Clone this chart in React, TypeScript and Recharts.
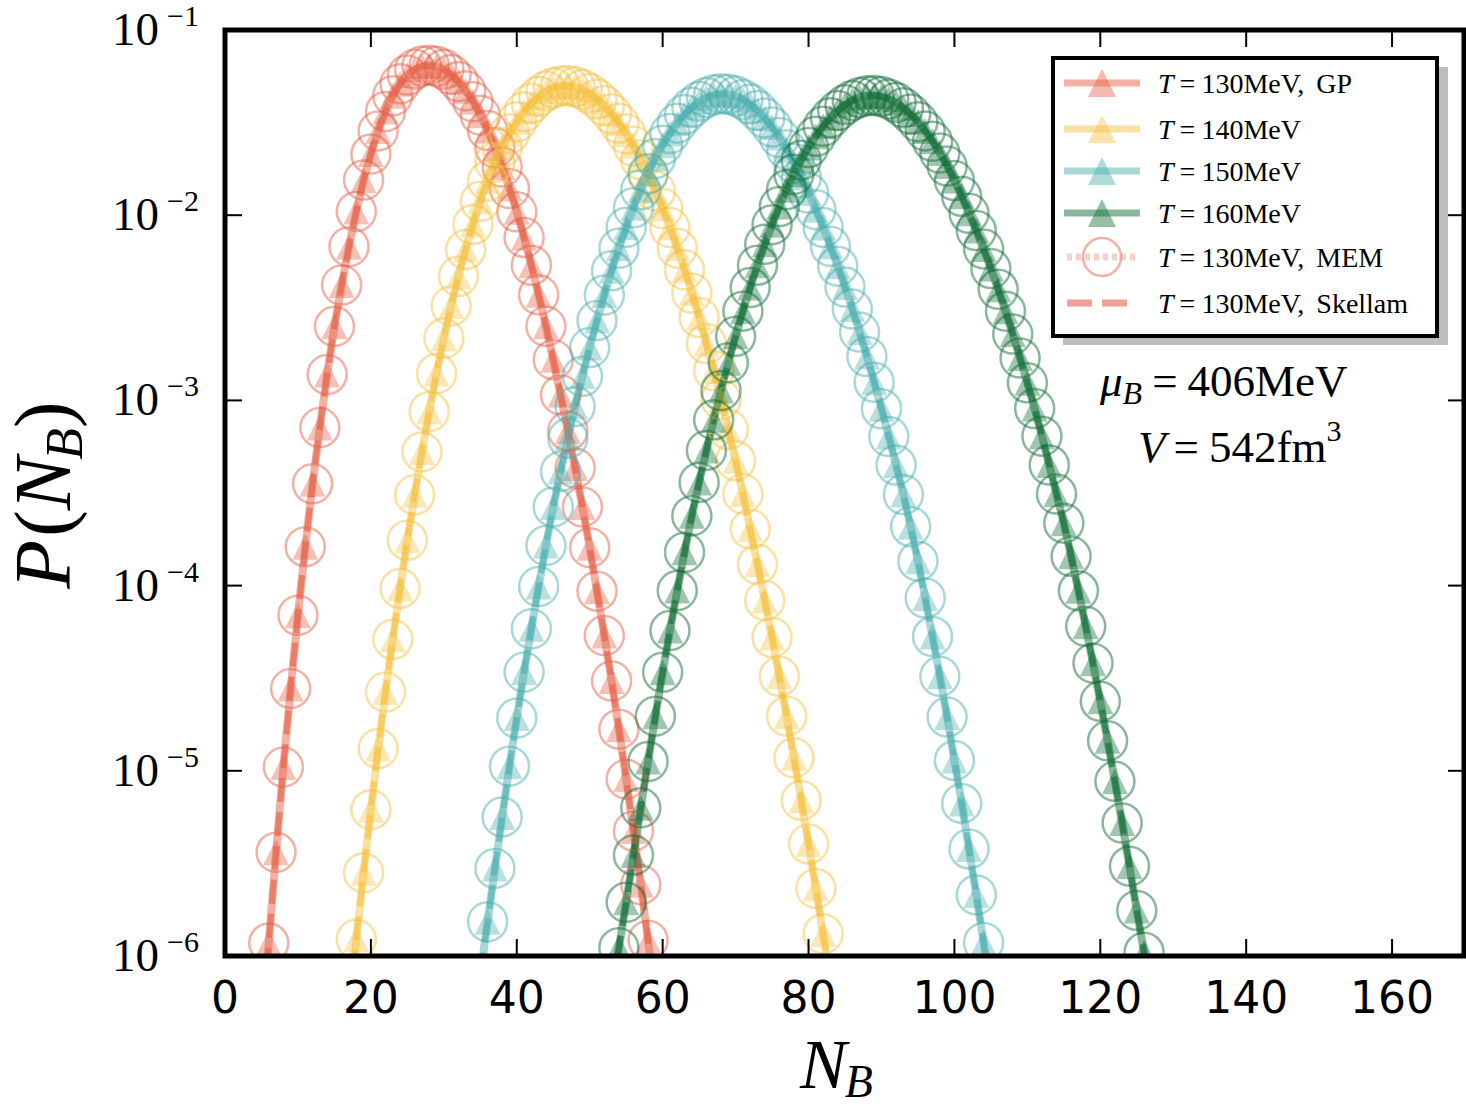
import React from 'react';
import { ComposedChart, Line, XAxis, YAxis } from 'recharts';

const RED = '#e5634a';
const YELLOW = '#f6c244';
const TEAL = '#4fb0b0';
const GREEN = '#15703a';

// log10 P(N_B), one value per integer N_B starting at *_FROM
const T130_FROM = 5;
const T130_LOGP = [
  -6.45, -5.93, -5.44, -4.98, -4.555, -4.16, -3.79, -3.45, -3.147, -2.86,
  -2.6, -2.377, -2.17, -1.98, -1.81, -1.67, -1.545, -1.44, -1.355, -1.29,
  -1.243, -1.212, -1.195, -1.19, -1.196, -1.212, -1.24, -1.278, -1.328, -1.388,
  -1.46, -1.542, -1.636, -1.74, -1.856, -1.982, -2.12, -2.27, -2.43, -2.6,
  -2.78, -2.97, -3.165, -3.365, -3.575, -3.795, -4.03, -4.27, -4.515, -4.775,
  -5.045, -5.325, -5.615, -5.915, -6.22,
];

const T140_FROM = 17;
const T140_LOGP = [
  -6.28, -5.91, -5.55, -5.21, -4.88, -4.575, -4.29, -4.015, -3.755, -3.51,
  -3.278, -3.06, -2.855, -2.665, -2.49, -2.33, -2.185, -2.05, -1.925, -1.815,
  -1.715, -1.633, -1.56, -1.496, -1.441, -1.395, -1.358, -1.33, -1.312, -1.302,
  -1.3, -1.307, -1.321, -1.343, -1.372, -1.408, -1.452, -1.503, -1.561, -1.627,
  -1.7, -1.781, -1.869, -1.964, -2.067, -2.178, -2.295, -2.42, -2.553, -2.693,
  -2.84, -2.995, -3.157, -3.326, -3.505, -3.695, -3.885, -4.08, -4.28, -4.49,
  -4.705, -4.93, -5.16, -5.395, -5.635, -5.88, -6.13,
];

const T150_FROM = 35;
const T150_LOGP = [
  -6.11, -5.815, -5.527, -5.249, -4.975, -4.715, -4.467, -4.233, -4.005, -3.784,
  -3.575, -3.384, -3.205, -3.033, -2.87, -2.715, -2.569, -2.431, -2.3, -2.179,
  -2.065, -1.96, -1.863, -1.775, -1.694, -1.622, -1.559, -1.503, -1.456, -1.417,
  -1.386, -1.364, -1.35, -1.344, -1.347, -1.357, -1.375, -1.4, -1.434, -1.475,
  -1.524, -1.581, -1.646, -1.719, -1.797, -1.88, -1.97, -2.066, -2.168, -2.275,
  -2.388, -2.507, -2.631, -2.763, -2.902, -3.045, -3.195, -3.349, -3.508, -3.682,
  -3.868, -4.067, -4.275, -4.49, -4.71, -4.944, -5.176, -5.422, -5.67, -5.927,
  -6.19,
];

const T160_FROM = 53;
const T160_LOGP = [
  -6.2, -5.955, -5.71, -5.455, -5.2, -4.95, -4.705, -4.468, -4.243, -4.027,
  -3.82, -3.623, -3.443, -3.27, -3.105, -2.947, -2.797, -2.654, -2.518, -2.391,
  -2.27, -2.157, -2.051, -1.953, -1.862, -1.779, -1.703, -1.635, -1.574, -1.52,
  -1.474, -1.435, -1.404, -1.38, -1.364, -1.355, -1.353, -1.359, -1.372, -1.392,
  -1.42, -1.454, -1.496, -1.545, -1.601, -1.664, -1.735, -1.813, -1.898, -1.99,
  -2.083, -2.182, -2.288, -2.4, -2.518, -2.642, -2.771, -2.905, -3.044, -3.193,
  -3.349, -3.506, -3.663, -3.842, -4.028, -4.22, -4.419, -4.625, -4.838, -5.057,
  -5.282, -5.515, -5.754, -5.98, -6.25,
];

const X_TICKS = [0, 20, 40, 60, 80, 100, 120, 140, 160];
const Y_TICKS = [1e-6, 1e-5, 1e-4, 1e-3, 1e-2, 1e-1];

const SERIES = [
  { key: 't130', from: T130_FROM, logP: T130_LOGP, color: RED, temp: '130' },
  { key: 't140', from: T140_FROM, logP: T140_LOGP, color: YELLOW, temp: '140' },
  { key: 't150', from: T150_FROM, logP: T150_LOGP, color: TEAL, temp: '150' },
  { key: 't160', from: T160_FROM, logP: T160_LOGP, color: GREEN, temp: '160' },
];

const rows: any[] = [];
for (let n = 4; n <= 128; n++) {
  const row: any = { n };
  for (const s of SERIES) {
    const i = n - s.from;
    if (i >= 0 && i < s.logP.length) row[s.key] = Math.pow(10, s.logP[i]);
  }
  rows.push(row);
}

const SERIF = '"Liberation Serif", "DejaVu Serif", serif';
const SANS = '"DejaVu Sans", sans-serif';

function makeTriangle(color: string) {
  return (p: any) => {
    const { cx, cy, index } = p;
    if (cx == null || cy == null || isNaN(cy)) return <g key={`t${index}`} />;
    const h = 13;
    return (
      <path
        key={`t${index}`}
        d={`M${cx},${cy - h}L${cx + h},${cy + h}L${cx - h},${cy + h}Z`}
        fill={color}
        fillOpacity={0.4}
      />
    );
  };
}

function makeCircle(color: string) {
  return (p: any) => {
    const { cx, cy, index } = p;
    if (cx == null || cy == null || isNaN(cy)) return <g key={`c${index}`} />;
    return (
      <circle key={`c${index}`} cx={cx} cy={cy} r={19.5} fill="none"
        stroke={color} strokeOpacity={0.5} strokeWidth={2.5} />
    );
  };
}

function BottomTick({ x, y, payload }: any) {
  return (
    <g>
      <line x1={x} y1={y} x2={x} y2={y - 17} stroke="#000" strokeWidth={2} />
      <text x={x} y={y + 57} textAnchor="middle" fontFamily={SANS} fontSize={44}>
        {payload.value}
      </text>
    </g>
  );
}

function TopTick({ x, y }: any) {
  return <line x1={x} y1={y} x2={x} y2={y + 17} stroke="#000" strokeWidth={2} />;
}

function LeftTick({ x, y, payload }: any) {
  const exp = Math.round(Math.log10(payload.value));
  return (
    <g>
      <line x1={x} y1={y} x2={x + 17} y2={y} stroke="#000" strokeWidth={2} />
      <text x={x - 26} y={y + 15} textAnchor="end" fontFamily={SERIF} fontSize={47}>
        10
        <tspan dy={-19} dx={8} fontSize={30}>{`\u2212${-exp}`}</tspan>
      </text>
    </g>
  );
}

function RightTick({ x, y }: any) {
  return <line x1={x} y1={y} x2={x - 17} y2={y} stroke="#000" strokeWidth={2} />;
}

const LEGEND_Y = [83, 129, 171, 213, 257, 303];

function LegendText({ y, temp, tail }: { y: number; temp: string; tail?: string }) {
  return (
    <text x={1158} y={y + 10} fontFamily={SERIF} fontSize={28}>
      <tspan fontStyle="italic">T</tspan>
      <tspan dx={6}>=</tspan>
      <tspan dx={6}>{`${temp}MeV${tail ? ',' : ''}`}</tspan>
      {tail ? <tspan dx={12}>{tail}</tspan> : null}
    </text>
  );
}

function Overlay() {
  return (
    <svg width={1466} height={1109}
      style={{ position: 'absolute', left: 0, top: 0, pointerEvents: 'none' }}>
      {/* frame */}
      <rect x={225} y={30} width={1239} height={926} fill="none" stroke="#000" strokeWidth={5} />

      {/* legend */}
      <rect x={1063} y={67} width={385} height={278} fill="#bdbdbd" />
      <rect x={1053} y={58} width={384} height={278} fill="#fff" stroke="#000" strokeWidth={4} />
      {SERIES.map((s, i) => {
        const y = LEGEND_Y[i];
        return (
          <g key={s.key}>
            <line x1={1064} y1={y} x2={1140} y2={y} stroke={s.color} strokeOpacity={0.5} strokeWidth={7} />
            <path d={`M1102,${y - 14}L1116,${y + 14}L1088,${y + 14}Z`} fill={s.color} fillOpacity={0.45} />
            <LegendText y={y} temp={s.temp} tail={i === 0 ? 'GP' : undefined} />
          </g>
        );
      })}
      <line x1={1067} y1={LEGEND_Y[4]} x2={1137} y2={LEGEND_Y[4]} stroke={RED}
        strokeOpacity={0.3} strokeWidth={7} strokeDasharray="5 4" />
      <circle cx={1102} cy={LEGEND_Y[4]} r={19} fill="none" stroke={RED} strokeOpacity={0.5} strokeWidth={2.5} />
      <LegendText y={LEGEND_Y[4]} temp="130" tail="MEM" />
      <line x1={1067} y1={LEGEND_Y[5]} x2={1137} y2={LEGEND_Y[5]} stroke={RED}
        strokeOpacity={0.6} strokeWidth={7} strokeDasharray="25 10" />
      <LegendText y={LEGEND_Y[5]} temp="130" tail="Skellam" />

      {/* annotation */}
      <text x={1100} y={396} fontFamily={SERIF} fontSize={45}>
        <tspan fontStyle="italic">μ</tspan>
        <tspan fontStyle="italic" fontSize={32} dy={8}>B</tspan>
        <tspan dy={-8} dx={10}>=</tspan>
        <tspan dx={10}>406MeV</tspan>
      </text>
      <text x={1138} y={462} fontFamily={SERIF} fontSize={45}>
        <tspan fontStyle="italic">V</tspan>
        <tspan dx={8}>=</tspan>
        <tspan dx={10}>542fm</tspan>
        <tspan fontSize={30} dy={-21}>3</tspan>
      </text>

      {/* axis labels */}
      <text x={800} y={1088} fontFamily={SERIF} fontSize={70}>
        <tspan fontStyle="italic">N</tspan>
        <tspan fontStyle="italic" fontSize={46} dy={9} dx={-2}>B</tspan>
      </text>
      <text x={0} y={0} transform="translate(70,495) rotate(-90)" textAnchor="middle"
        fontFamily={SERIF} fontSize={80}>
        <tspan fontStyle="italic">P</tspan>
        <tspan dx={3}>(</tspan>
        <tspan fontStyle="italic">N</tspan>
        <tspan fontStyle="italic" fontSize={52} dy={12} dx={-3}>B</tspan>
        <tspan dy={-12}>)</tspan>
      </text>
    </svg>
  );
}

export default function App() {
  const lines: React.ReactNode[] = [];
  for (const s of SERIES) {
    lines.push(
      <Line key={`${s.key}-gp`} type="linear" dataKey={s.key} stroke={s.color} strokeOpacity={0.5}
        strokeWidth={8} dot={makeTriangle(s.color)} activeDot={false} isAnimationActive={false} />,
      <Line key={`${s.key}-sk`} type="linear" dataKey={s.key} stroke={s.color} strokeOpacity={0.65}
        strokeWidth={6} strokeDasharray="24 10" dot={false} activeDot={false} isAnimationActive={false} />,
      <Line key={`${s.key}-mem`} type="linear" dataKey={s.key} stroke="none"
        xAxisId="top" yAxisId="right"
        dot={makeCircle(s.color)} activeDot={false} isAnimationActive={false} />,
    );
  }
  return (
    <div style={{ position: 'absolute', left: 0, top: 0, width: 1466, height: 1109, background: '#fff' }}>
      <ComposedChart width={1466} height={1109} data={rows}
        margin={{ top: 29, right: 0, left: 0, bottom: 0 }}>
        {lines}
        <XAxis dataKey="n" type="number" domain={[0, 170]} ticks={X_TICKS} interval={0}
          allowDataOverflow height={153} tickSize={0} tickMargin={0} tickLine={false}
          axisLine={false} tick={<BottomTick />} />
        <XAxis xAxisId="top" orientation="top" dataKey="n" type="number" domain={[0, 170]}
          ticks={X_TICKS} interval={0} allowDataOverflow height={1} tickSize={0} tickMargin={0}
          tickLine={false} axisLine={false} tick={<TopTick />} />
        <YAxis type="number" scale="log" domain={[1e-6, 1e-1]} ticks={Y_TICKS} interval={0}
          allowDataOverflow width={225} tickSize={0} tickMargin={0} tickLine={false}
          axisLine={false} tick={<LeftTick />} />
        <YAxis yAxisId="right" orientation="right" type="number" scale="log" domain={[1e-6, 1e-1]}
          ticks={Y_TICKS} interval={0} allowDataOverflow width={1} tickSize={0} tickMargin={0}
          tickLine={false} axisLine={false} tick={<RightTick />} />
      </ComposedChart>
      <Overlay />
    </div>
  );
}
